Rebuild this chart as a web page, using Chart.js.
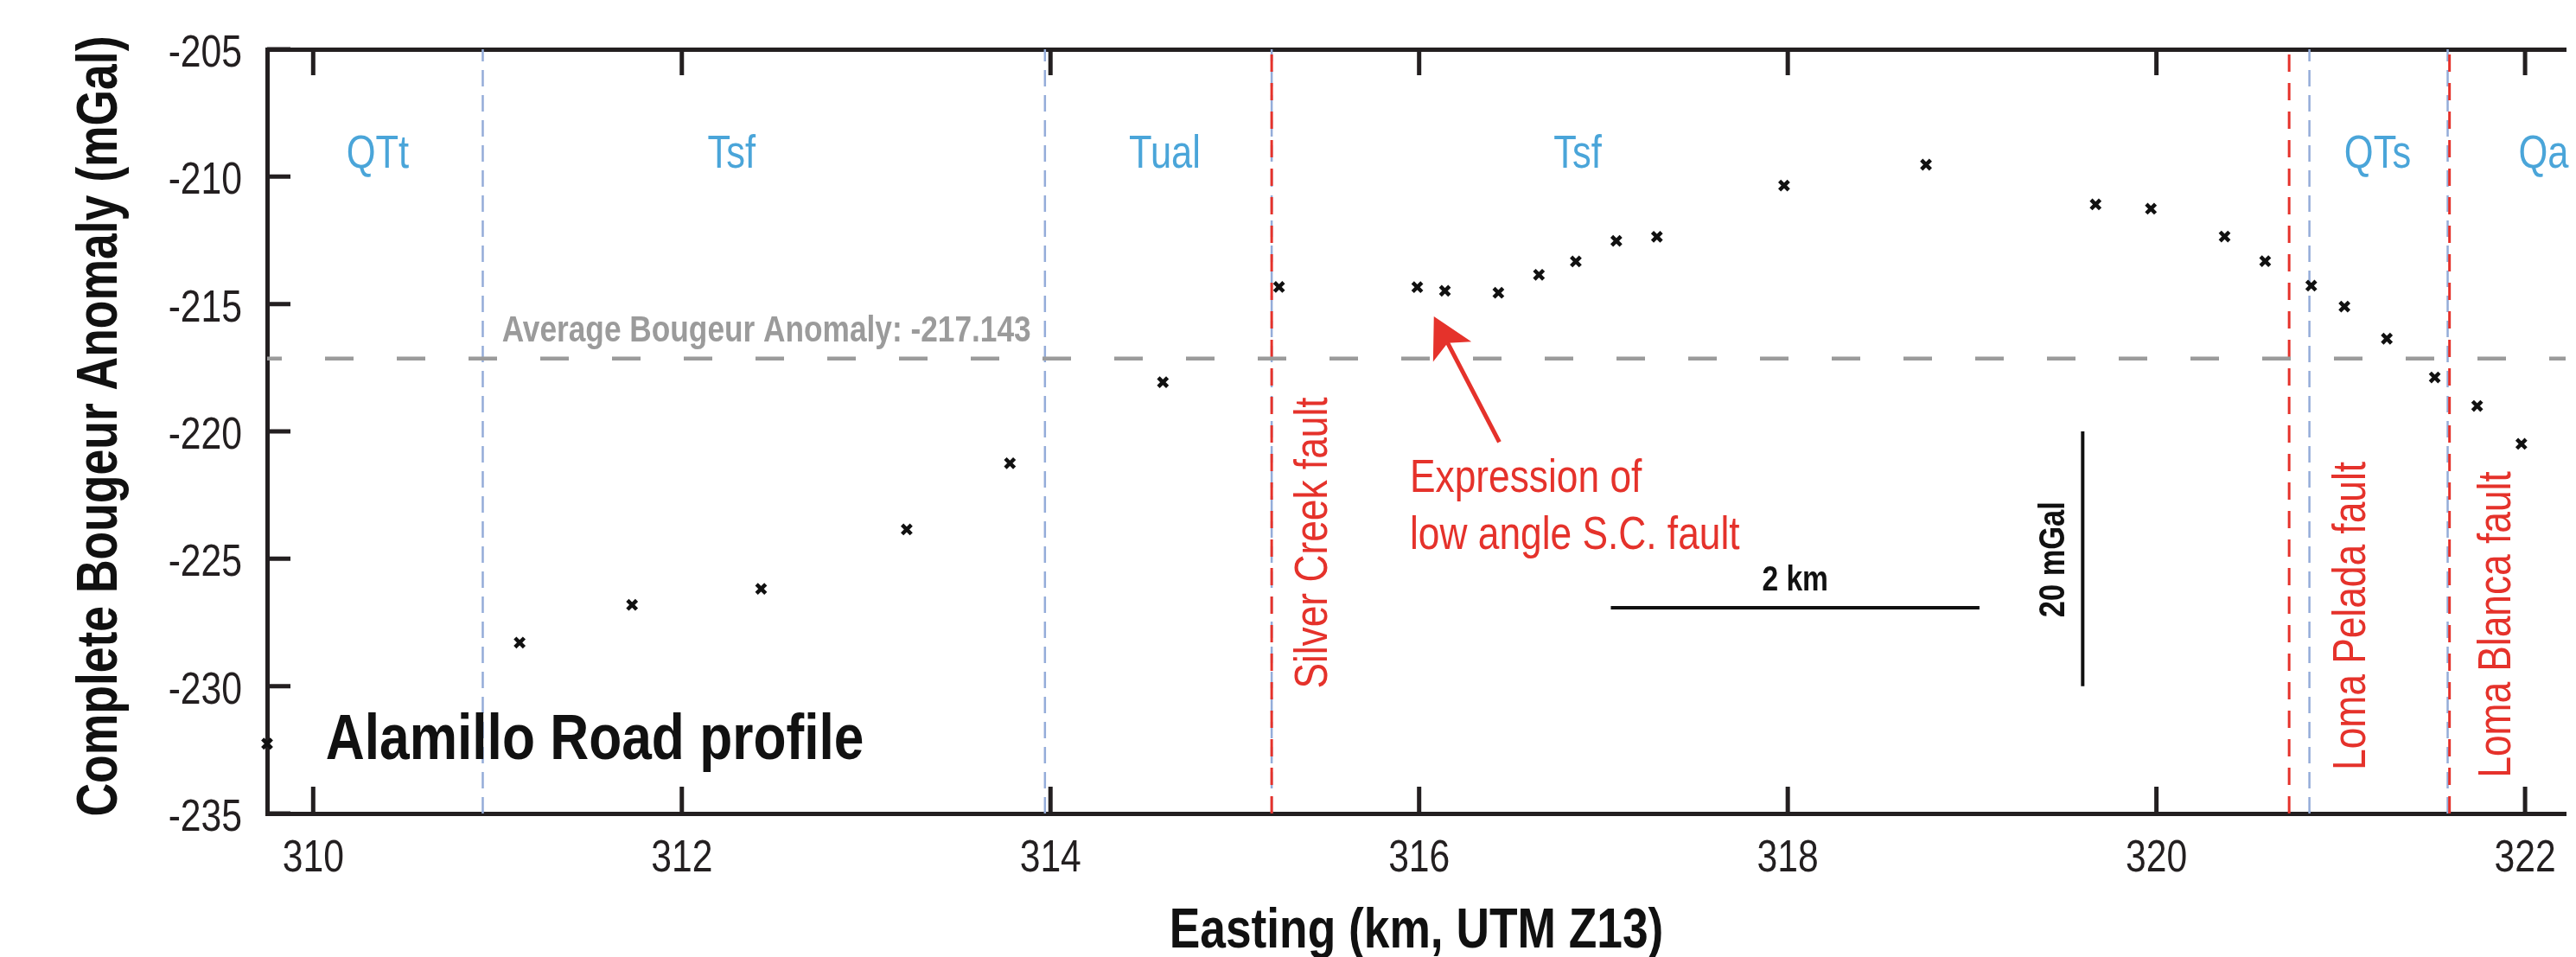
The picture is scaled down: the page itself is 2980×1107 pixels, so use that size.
<!DOCTYPE html>
<html>
<head>
<meta charset="utf-8">
<title>Alamillo Road profile</title>
<script src="https://cdn.jsdelivr.net/npm/chart.js@4.4.1/dist/chart.umd.min.js"></script>
<style>
  html, body { margin: 0; padding: 0; background: #fff; }
  canvas { display: block; }
</style>
</head>
<body>
<canvas id="chart" width="2980" height="1107"></canvas>
<script>
// Alamillo Road gravity profile.
// Complete Bouguer anomaly stations, map-unit contacts, faults and scale bars.
// Text is drawn by a small plugin and squeezed horizontally (no narrow font installed).

const FONT = "'Liberation Sans', Arial, sans-serif";
const SQUEEZE = 0.82;
const INK = '#231f20';
const RED = '#e5322b';
const BLUE_TEXT = '#4aa5d9';
const BLUE_LINE = '#94acd9';
const GREY = '#9b9b9b';

// --- Data ---
const easting = [309.75, 311.12, 311.73, 312.43, 313.22, 313.78, 314.61, 315.24, 315.99,
  316.14, 316.43, 316.65, 316.85, 317.07, 317.29, 317.98, 318.75, 319.67, 319.97,
  320.37, 320.59, 320.84, 321.02, 321.25, 321.51, 321.74, 321.98];
const bouguer = [-232.26, -228.29, -226.81, -226.18, -223.85, -221.25, -218.07, -214.33, -214.34,
  -214.48, -214.56, -213.85, -213.33, -212.52, -212.36, -210.35, -209.53, -211.09, -211.26,
  -212.35, -213.32, -214.28, -215.10, -216.36, -217.88, -219.00, -220.49];
const AVG_ANOMALY = -217.143;

const xTicks = [310, 312, 314, 316, 318, 320, 322];
const yTicks = [-205, -210, -215, -220, -225, -230, -235];
const X_MIN = 309.75, X_MAX = 322.22;
const Y_MIN = -235, Y_MAX = -205;
const X_TITLE = 'Easting (km, UTM Z13)';
const Y_TITLE = 'Complete Bougeur Anomaly (mGal)';

// contacts between map units (blue) and faults (red), easting km
const contacts = [310.92, 313.97, 315.20, 320.83, 321.58];
const faults = [315.20, 320.72, 321.59];

// map units
const unitNames = ['QTt', 'Tsf', 'Tual', 'Tsf', 'QTs', 'Qa'];
const unitEasting = [310.35, 312.27, 314.62, 316.86, 321.20, 322.10];
const UNIT_LABEL_Y = -209.65;

// fault names, written upward beside each fault
const faultNames = ['Silver Creek fault', 'Loma Pelada fault', 'Loma Blanca fault'];
const faultLabelEasting = [315.50, 321.13, 321.92];
const faultLabelStart = [-230.1, -233.3, -233.6];

// annotation arrow + text
const noteLines = ['Expression of', 'low angle S.C. fault'];
const noteAt = { x: 315.95, y: -222.38 };
const arrowTip = { x: 316.08, y: -215.49 };
const arrowTail = { x: 316.435, y: -220.42 };

// scale bars
const kmBarX = [317.04, 319.04];
const KM_BAR_Y = -226.92;
const MGAL_BAR_X = 319.6;
const mgalBarY = [-220, -230];

// --- Datasets ---
const vline = (x, color, width, dash) => ({
  data: [{ x, y: Y_MIN }, { x, y: Y_MAX }],
  showLine: true,
  borderColor: color,
  borderWidth: width,
  borderDash: dash,
  pointRadius: 0,
  pointHoverRadius: 0,
});

const datasets = [
  {
    label: 'Stations',
    data: easting.map((x, i) => ({ x, y: bouguer[i] })),
    pointStyle: 'crossRot',
    pointRadius: 7.5,
    pointHoverRadius: 7.5,
    borderColor: '#111',
    backgroundColor: '#111',
    borderWidth: 4.5,
    showLine: false,
    clip: false,
  },
  {
    label: 'Average',
    data: [{ x: X_MIN, y: AVG_ANOMALY }, { x: X_MAX, y: AVG_ANOMALY }],
    showLine: true,
    borderColor: GREY,
    borderWidth: 4.5,
    borderDash: [33, 50],
    borderDashOffset: 16,
    pointRadius: 0,
    pointHoverRadius: 0,
  },
  ...faults.map(x => vline(x, RED, 3, [20, 13])),
  ...contacts.map(x => vline(x, BLUE_LINE, 2.5, [19, 10])),
  {
    label: '2 km',
    data: kmBarX.map(x => ({ x, y: KM_BAR_Y })),
    showLine: true, borderColor: '#111', borderWidth: 4, pointRadius: 0, pointHoverRadius: 0,
  },
  {
    label: '20 mGal',
    data: mgalBarY.map(y => ({ x: MGAL_BAR_X, y })),
    showLine: true, borderColor: '#111', borderWidth: 4, pointRadius: 0, pointHoverRadius: 0,
  },
];

// --- Text / decoration overlay ---
function drawLabel(ctx, text, px, py, o) {
  ctx.save();
  ctx.font = `${o.weight || 'normal'} ${o.size}px ${FONT}`;
  ctx.fillStyle = o.color;
  ctx.textAlign = o.align || 'left';
  ctx.textBaseline = 'alphabetic';
  ctx.translate(px, py);
  if (o.upward) ctx.rotate(-Math.PI / 2);
  ctx.scale(o.squeeze || SQUEEZE, 1);
  ctx.fillText(text, 0, 0);
  ctx.restore();
}

const overlay = {
  id: 'overlay',
  afterDraw(chart) {
    const { ctx, chartArea: area, scales: { x, y } } = chart;

    // inward tick marks on bottom, top and left
    ctx.save();
    ctx.strokeStyle = INK;
    ctx.lineWidth = 5;
    ctx.beginPath();
    xTicks.forEach(v => {
      const px = x.getPixelForValue(v);
      ctx.moveTo(px, area.bottom); ctx.lineTo(px, area.bottom - 31);
      ctx.moveTo(px, area.top); ctx.lineTo(px, area.top + 30);
    });
    yTicks.forEach(v => {
      const py = y.getPixelForValue(v);
      ctx.moveTo(area.left, py); ctx.lineTo(area.left + 27, py);
    });
    ctx.stroke();
    ctx.restore();

    // tick labels
    x.ticks.forEach(t => {
      drawLabel(ctx, String(t.value), x.getPixelForValue(t.value), area.bottom + 67,
        { size: 52, color: INK, align: 'center' });
    });
    y.ticks.forEach(t => {
      drawLabel(ctx, String(t.value), area.left - 29, y.getPixelForValue(t.value) + 20,
        { size: 52, color: INK, align: 'right' });
    });

    // axis titles
    drawLabel(ctx, X_TITLE, (area.left + area.right) / 2, 1096,
      { size: 65, weight: 'bold', color: '#111', align: 'center' });
    drawLabel(ctx, Y_TITLE, 135, (area.top + area.bottom) / 2 - 6,
      { size: 66, weight: 'bold', color: '#111', align: 'center', upward: true, squeeze: 0.81 });

    // map unit names
    unitNames.forEach((name, i) => {
      drawLabel(ctx, name, x.getPixelForValue(unitEasting[i]), y.getPixelForValue(UNIT_LABEL_Y),
        { size: 53, color: BLUE_TEXT, align: 'center' });
    });

    // fault names
    faultNames.forEach((name, i) => {
      drawLabel(ctx, name, x.getPixelForValue(faultLabelEasting[i]), y.getPixelForValue(faultLabelStart[i]),
        { size: 54, color: RED, upward: true });
    });

    // average line label
    drawLabel(ctx, 'Average Bougeur Anomaly: ' + AVG_ANOMALY.toFixed(3),
      x.getPixelForValue(311.024), y.getPixelForValue(-216.46),
      { size: 43, weight: 'bold', color: GREY });

    // profile title
    drawLabel(ctx, 'Alamillo Road profile', x.getPixelForValue(310.068), y.getPixelForValue(-232.87),
      { size: 75, weight: 'bold', color: '#111', squeeze: 0.83 });

    // note + arrow
    noteLines.forEach((line, i) => {
      drawLabel(ctx, line, x.getPixelForValue(noteAt.x), y.getPixelForValue(noteAt.y) + i * 66,
        { size: 54, color: RED });
    });
    const tx = x.getPixelForValue(arrowTip.x), ty = y.getPixelForValue(arrowTip.y);
    const sx = x.getPixelForValue(arrowTail.x), sy = y.getPixelForValue(arrowTail.y);
    const len = Math.hypot(tx - sx, ty - sy);
    const ux = (tx - sx) / len, uy = (ty - sy) / len;
    const headLen = 46, headHalf = 25;
    ctx.save();
    ctx.strokeStyle = RED;
    ctx.fillStyle = RED;
    ctx.lineWidth = 5;
    ctx.beginPath();
    ctx.moveTo(sx, sy);
    ctx.lineTo(tx - ux * headLen * 0.7, ty - uy * headLen * 0.7);
    ctx.stroke();
    const bx = tx - ux * headLen, by = ty - uy * headLen;
    ctx.beginPath();
    ctx.moveTo(tx, ty);
    ctx.lineTo(bx - uy * headHalf, by + ux * headHalf);
    ctx.lineTo(tx - ux * headLen * 0.75, ty - uy * headLen * 0.75);
    ctx.lineTo(bx + uy * headHalf, by - ux * headHalf);
    ctx.closePath();
    ctx.fill();
    ctx.restore();

    // scale bar labels
    drawLabel(ctx, '2 km', x.getPixelForValue((kmBarX[0] + kmBarX[1]) / 2), y.getPixelForValue(-226.24),
      { size: 41, weight: 'bold', color: '#111', align: 'center' });
    drawLabel(ctx, '20 mGal', x.getPixelForValue(319.5), y.getPixelForValue(-225.03),
      { size: 42, weight: 'bold', color: '#111', align: 'center', upward: true });
  },
};

// --- Chart ---
new Chart(document.getElementById('chart'), {
  type: 'scatter',
  data: { datasets },
  plugins: [overlay],
  options: {
    responsive: false,
    devicePixelRatio: 1,
    animation: false,
    events: [],
    layout: { padding: 0 },
    plugins: { legend: { display: false }, tooltip: { enabled: false } },
    scales: {
      x: {
        type: 'linear',
        position: 'bottom',
        min: X_MIN,
        max: X_MAX,
        afterBuildTicks: s => { s.ticks = xTicks.map(value => ({ value })); },
        afterFit: s => { s.height = 166; },
        ticks: { display: false },
        grid: { display: false, drawTicks: false },
        border: { display: true, color: INK, width: 5 },
      },
      xTop: {
        type: 'linear',
        position: 'top',
        min: X_MIN,
        max: X_MAX,
        afterBuildTicks: s => { s.ticks = xTicks.map(value => ({ value })); },
        afterFit: s => { s.height = 57; },
        ticks: { display: false },
        grid: { display: false, drawTicks: false },
        border: { display: true, color: INK, width: 5 },
      },
      y: {
        type: 'linear',
        position: 'left',
        min: Y_MIN,
        max: Y_MAX,
        afterBuildTicks: s => { s.ticks = yTicks.map(value => ({ value })); },
        afterFit: s => { s.width = 309; },
        ticks: { display: false },
        grid: { display: false, drawTicks: false },
        border: { display: true, color: INK, width: 5 },
      },
    },
  },
});
</script>
</body>
</html>
